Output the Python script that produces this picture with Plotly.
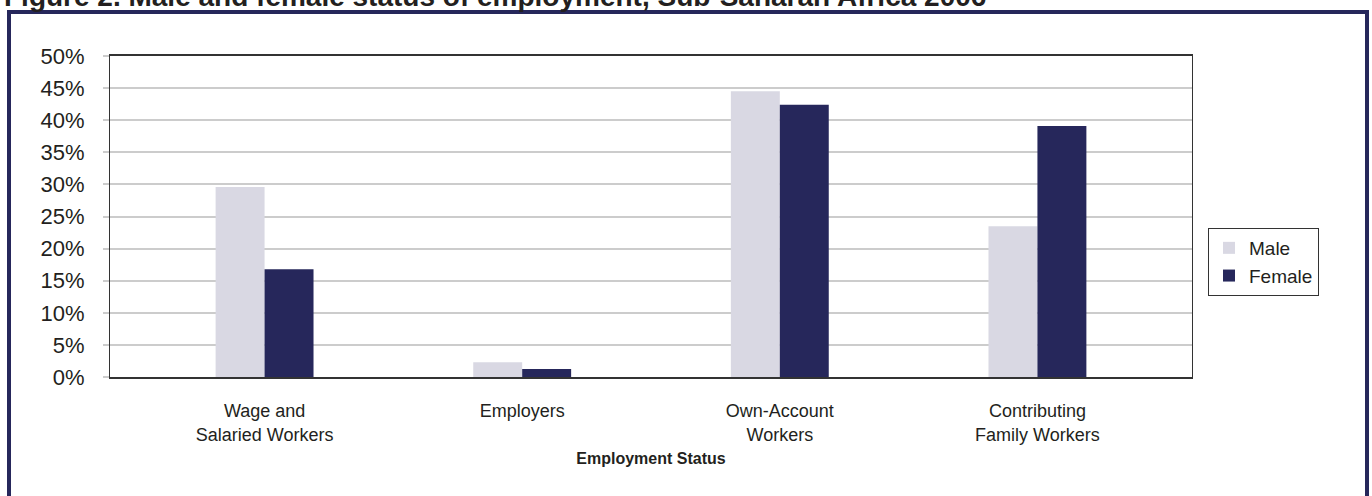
import plotly.graph_objects as go

categories = ["Wage and<br>Salaried Workers", "Employers", "Own-Account<br>Workers", "Contributing<br>Family Workers"]
male = [29.6, 2.3, 44.5, 23.5]
female = [16.8, 1.25, 42.4, 39.1]
y_ticks = [0, 5, 10, 15, 20, 25, 30, 35, 40, 45, 50]
y_tick_labels = ["0%", "5%", "10%", "15%", "20%", "25%", "30%", "35%", "40%", "45%", "50%"]
title_text = "Figure 2. Male and female status of employment, Sub-Saharan Africa 2006"

FONT = "Liberation Sans, Arial, sans-serif"
TXT = "#231f20"
NAVY = "#26275b"

# plot area in pixels
L, R, T, B = 110, 1192, 56, 377
W, H = 1372, 496
def px(x):
    return (x - L) / (R - L)
def py(y):
    return (B - y) / (B - T)

fig = go.Figure()
fig.add_trace(go.Bar(name="Male", x=categories, y=male, marker=dict(color="#d9d8e3", line=dict(width=0))))
fig.add_trace(go.Bar(name="Female", x=categories, y=female, marker=dict(color=NAVY, line=dict(width=0))))

fig.update_layout(
    width=W, height=H,
    margin=dict(l=L, r=W - R, t=T, b=H - B, autoexpand=False),
    paper_bgcolor="white", plot_bgcolor="white",
    barmode="group", bargap=0.62, bargroupgap=0,
    font=dict(family=FONT, color=TXT),
    showlegend=True,
    legend=dict(
        x=px(1208), y=py(262), xanchor="left", yanchor="middle",
        bordercolor="#333333", borderwidth=1, bgcolor="white",
        font=dict(size=19, color=TXT), tracegroupgap=0,
    ),
    shapes=[
        dict(type="rect", xref="paper", yref="paper",
             x0=px(9), x1=px(1367), y0=py(505), y1=py(12),
             line=dict(color=NAVY, width=4), fillcolor="rgba(0,0,0,0)", layer="below"),
    ],
    annotations=[
        dict(text="<b>" + title_text + "</b>", xref="paper", yref="paper",
             x=px(2), y=py(14), xanchor="left", yanchor="bottom", showarrow=False,
             font=dict(size=28, color=TXT, family=FONT)),
    ],
)

fig.update_xaxes(
    range=[-0.6, 3.6], showgrid=False,
    showline=True, linecolor="#333333", linewidth=1.5, mirror=True,
    ticks="outside", ticklen=0, tickfont=dict(size=18, color=TXT),
    ticklabelstandoff=17,
    title=dict(text="<b>Employment Status</b>", font=dict(size=16, color=TXT), standoff=9),
)
fig.update_yaxes(
    range=[0, 50], tickvals=y_ticks, ticktext=y_tick_labels,
    showgrid=True, gridcolor="#cccccc", gridwidth=1.5,
    showline=True, linecolor="#333333", linewidth=1, mirror=True,
    ticks="outside", ticklen=6, tickcolor="#cccccc", tickwidth=1.5,
    tickfont=dict(size=22, color=TXT), ticklabelstandoff=14,
    zeroline=False,
)

fig.write_html("out.html", config={"displayModeBar": False},
               post_script="document.body.style.margin='0';document.body.style.overflow='hidden';")
